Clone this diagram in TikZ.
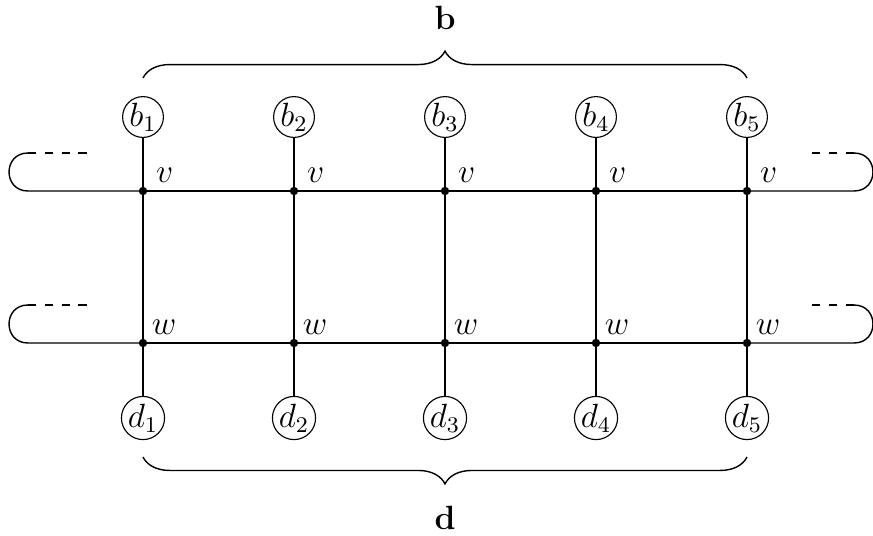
\documentclass[tikz,border=0pt]{standalone}
\usetikzlibrary{decorations.pathreplacing}
\begin{document}
\begin{tikzpicture}[x=0.357pt,y=-0.357pt,font=\large,
  ext/.style={circle,draw,inner sep=0.2pt,minimum size=13.8pt},
  junc/.style={circle,fill,inner sep=0pt,minimum size=3pt},
  lab/.style={anchor=south west,inner sep=0pt},
  wire/.style={line width=0.5pt},
  brc/.style={decorate,decoration={brace,amplitude=9.6pt}}]
\useasboundingbox (0,0) rectangle (873,535);
\foreach \i/\x in {1/143,2/294,3/445,4/596,5/747}{
  \node[ext] (b\i) at (\x,117) {$b_\i$};
  \node[ext] (d\i) at (\x,418) {$d_\i$};
  \node[junc] (v\i) at (\x,191) {};
  \node[junc] (w\i) at (\x,343) {};
  \node[lab] (lv\i) at ([xshift=4.5pt,yshift=3pt]v\i.center) {$v$};
  \node[lab] (lw\i) at ([xshift=3pt,yshift=3pt]w\i.center) {$w$};
  \draw[wire] (b\i) -- (v\i.center) -- (w\i.center) -- (d\i);
}
\foreach \a/\b in {1/2,2/3,3/4,4/5}{
  \draw[wire] (v\a.center) -- (v\b.center);
  \draw[wire] (w\a.center) -- (w\b.center);
}
% loops
\coordinate (lvA) at (28,191); \coordinate (lvB) at (28,153); \coordinate (lvC) at (87,153);
\coordinate (lwA) at (28,343); \coordinate (lwB) at (28,305); \coordinate (lwC) at (87,305);
\coordinate (rvA) at (854,191); \coordinate (rvB) at (854,153); \coordinate (rvC) at (805,153);
\coordinate (rwA) at (854,343); \coordinate (rwB) at (854,305); \coordinate (rwC) at (805,305);
\draw[wire] (v1.center) -- (lvA) .. controls (2.7,191) and (2.7,153) .. (lvB);
\draw[wire,dashed] (lvB) -- (lvC);
\draw[wire] (w1.center) -- (lwA) .. controls (2.7,343) and (2.7,305) .. (lwB);
\draw[wire,dashed] (lwB) -- (lwC);
\draw[wire] (v5.center) -- (rvA) .. controls (879.3,191) and (879.3,153) .. (rvB);
\draw[wire,dashed] (rvB) -- (rvC);
\draw[wire] (w5.center) -- (rwA) .. controls (879.3,343) and (879.3,305) .. (rwB);
\draw[wire,dashed] (rwB) -- (rwC);
% braces
\coordinate (tb1) at (143,78); \coordinate (tb5) at (747,78);
\coordinate (bd1) at (143,457); \coordinate (bd5) at (747,457);
\draw[wire,brc] (tb1) -- (tb5);
\draw[wire,brc] (bd5) -- (bd1);
\node (B) at (445,18) {$\mathbf{b}$};
\node (D) at (445,518) {$\mathbf{d}$};
\end{tikzpicture}
\end{document}
